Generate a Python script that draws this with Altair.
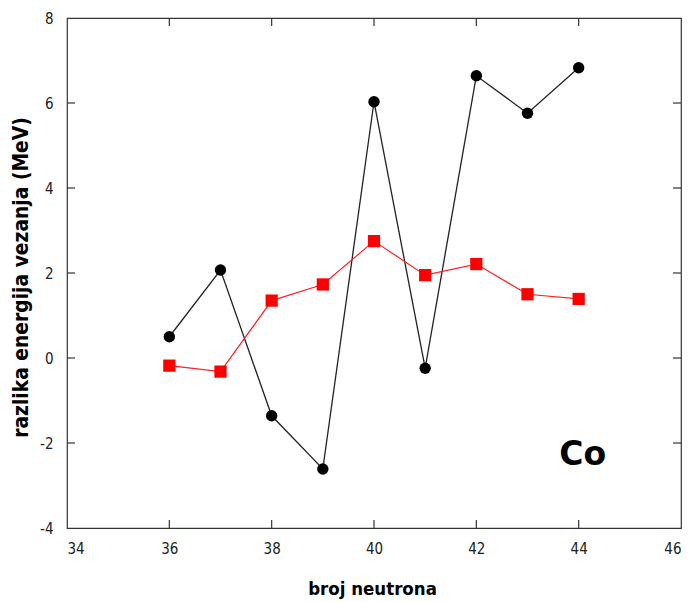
import altair as alt
import pandas as pd

neutrons = [36, 37, 38, 39, 40, 41, 42, 43, 44]
black_vals = [0.50, 2.07, -1.36, -2.61, 6.03, -0.24, 6.64, 5.76, 6.83]
red_vals = [-0.18, -0.32, 1.35, 1.73, 2.75, 1.95, 2.21, 1.50, 1.39]

x_ticks = [34, 36, 38, 40, 42, 44, 46]
y_ticks = [-4, -2, 0, 2, 4, 6, 8]
x_domain = [34, 46]
y_domain = [-4, 8]

label_text = ["Co"]
label_x = [44.08]
label_y = [-2.28]

W, H = 614, 510
TICK_PX = 8

df_black = pd.DataFrame({"n": neutrons, "v": black_vals})
df_red = pd.DataFrame({"n": neutrons, "v": red_vals})

xs = alt.Scale(domain=x_domain, nice=False, zero=False)
ys = alt.Scale(domain=y_domain, nice=False, zero=False)

font = "DejaVu Sans Condensed"

x_axis = alt.Axis(values=x_ticks, tickSize=0, domain=False, grid=False,
                  labelExpr="toString(datum.value)",
                  labelFont=font, labelFontSize=15, labelColor="#222",
                  labelPadding=13,
                  title="broj neutrona", titleFont=font, titleFontSize=18.5,
                  titleFontWeight="bold", titleColor="#000",
                  titleX=W / 2 - 2, titleY=60, titleBaseline="middle")
y_axis = alt.Axis(values=y_ticks, tickSize=0, domain=False, grid=False,
                  labelExpr="toString(datum.value)",
                  labelFont=font, labelFontSize=15, labelColor="#222",
                  labelPadding=14,
                  title="razlika energija vezanja (MeV)", titleFont=font,
                  titleFontSize=20.8, titleFontWeight="bold", titleColor="#000",
                  titleX=-46, titleY=H / 2 + 4, titleBaseline="middle")

base_b = alt.Chart(df_black)
base_r = alt.Chart(df_red)

black_line = base_b.mark_line(color="#222", strokeWidth=1.3).encode(
    x=alt.X("n:Q", scale=xs, axis=x_axis),
    y=alt.Y("v:Q", scale=ys, axis=y_axis),
)
black_pts = base_b.mark_point(shape="circle", filled=True, color="#000",
                              size=130, opacity=1).encode(
    x=alt.X("n:Q", scale=xs), y=alt.Y("v:Q", scale=ys))
red_line = base_r.mark_line(color="#ff2020", strokeWidth=1.2).encode(
    x=alt.X("n:Q", scale=xs), y=alt.Y("v:Q", scale=ys))
red_pts = base_r.mark_point(shape="square", filled=True, color="#ff0000",
                            size=150, opacity=1).encode(
    x=alt.X("n:Q", scale=xs), y=alt.Y("v:Q", scale=ys))

# inward ticks on all four sides
dx = (x_domain[1] - x_domain[0]) * TICK_PX / W
dy = (y_domain[1] - y_domain[0]) * TICK_PX / H
xt = [t for t in x_ticks if x_domain[0] < t < x_domain[1]]
yt = [t for t in y_ticks if y_domain[0] < t < y_domain[1]]
tick_rows = []
for t in xt:
    tick_rows.append({"x": t, "x2": t, "y": y_domain[0], "y2": y_domain[0] + dy})
    tick_rows.append({"x": t, "x2": t, "y": y_domain[1], "y2": y_domain[1] - dy})
for t in yt:
    tick_rows.append({"x": x_domain[0], "x2": x_domain[0] + dx, "y": t, "y2": t})
    tick_rows.append({"x": x_domain[1], "x2": x_domain[1] - dx, "y": t, "y2": t})
ticks = alt.Chart(pd.DataFrame(tick_rows)).mark_rule(color="#333", strokeWidth=1.2).encode(
    x=alt.X("x:Q", scale=xs), x2="x2:Q",
    y=alt.Y("y:Q", scale=ys), y2="y2:Q")

label = alt.Chart(pd.DataFrame({"t": label_text, "x": label_x, "y": label_y})).mark_text(
    font="DejaVu Sans", fontWeight="bold", fontSize=33, color="#000",
    align="center", baseline="middle").encode(
    x=alt.X("x:Q", scale=xs), y=alt.Y("y:Q", scale=ys), text="t:N")

chart = alt.layer(black_line, red_line, ticks, black_pts, red_pts, label).properties(
    width=W, height=H,
    autosize=alt.AutoSizeParams(type="none"),
    padding={"left": 67, "top": 18, "right": 7, "bottom": 74},
    background="white",
).configure_view(stroke="#333", strokeWidth=1.2)

chart.save("out.html", embed_options={"renderer": "svg", "actions": False})
